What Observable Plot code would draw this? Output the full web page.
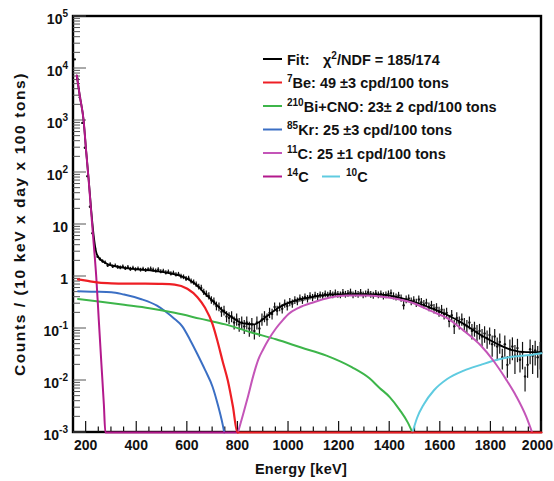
<!DOCTYPE html>
<html><head><meta charset="utf-8">
<script src="https://cdn.jsdelivr.net/npm/d3@7"></script>
<script src="https://cdn.jsdelivr.net/npm/@observablehq/plot@0.6"></script>
<style>
html,body{margin:0;padding:0;background:#fff;}
#chart svg{display:block;}
</style></head><body><div id="chart"></div>
<script>
// ---- data: spectrum, 10 keV bins starting at 155 keV ----
const binStart = 155, binWidth = 10;
const counts = [
 15000, 6500, 2800, 900, 300, 85, 22, 6.8, 3.4, 2.4,
 2.15, 1.95, 1.85, 1.62, 1.7, 1.55, 1.6, 1.5, 1.47, 1.55,
 1.42, 1.5, 1.38, 1.45, 1.35, 1.4, 1.33, 1.38, 1.31, 1.36,
 1.4, 1.33, 1.28, 1.35, 1.24, 1.27, 1.18, 1.22, 1.13, 1.16,
 1.08, 1.1, 1.0, 0.97, 0.9, 0.92, 0.81, 0.77, 0.7, 0.63,
 0.6, 0.5, 0.46, 0.42, 0.35, 0.33, 0.27, 0.26, 0.21, 0.22,
 0.17, 0.16, 0.17, 0.13, 0.15, 0.12, 0.13, 0.11, 0.13, 0.1,
 0.12, 0.09, 0.13, 0.1, 0.15, 0.17, 0.15, 0.2, 0.19, 0.26,
 0.22, 0.26, 0.24, 0.3, 0.27, 0.32, 0.3, 0.35, 0.33, 0.38,
 0.35, 0.4, 0.37, 0.42, 0.39, 0.43, 0.41, 0.44, 0.42, 0.46,
 0.43, 0.47, 0.44, 0.48, 0.45, 0.44, 0.49, 0.45, 0.47, 0.5,
 0.44, 0.47, 0.45, 0.49, 0.44, 0.46, 0.5, 0.45, 0.43, 0.47,
 0.44, 0.46, 0.42, 0.44, 0.46, 0.48, 0.42, 0.4, 0.43, 0.38,
 0.28, 0.36, 0.38, 0.33, 0.35, 0.31, 0.36, 0.32, 0.29, 0.31,
 0.26, 0.28, 0.24, 0.25, 0.21, 0.23, 0.19, 0.2, 0.14, 0.18,
 0.11, 0.16, 0.13, 0.15, 0.12, 0.11, 0.13, 0.09, 0.1, 0.085,
 0.09, 0.07, 0.08, 0.065, 0.075, 0.05, 0.07, 0.045, 0.055, 0.028,
 0.05, 0.02, 0.04, 0.045, 0.03, 0.042, 0.025, 0.035, 0.012, 0.02,
 0.04, 0.03, 0.038, 0.028, 0.035
];
const errors = [
 12, 8, 5.3, 3, 1.7, 0.9, 0.47, 0.26, 0.18, 0.15,
 0.15, 0.14, 0.14, 0.13, 0.13, 0.12, 0.13, 0.12, 0.12, 0.12,
 0.12, 0.12, 0.12, 0.12, 0.12, 0.12, 0.11, 0.12, 0.11, 0.12,
 0.12, 0.12, 0.11, 0.12, 0.11, 0.11, 0.11, 0.11, 0.11, 0.11,
 0.1, 0.1, 0.1, 0.1, 0.095, 0.096, 0.089, 0.088, 0.084, 0.079,
 0.077, 0.071, 0.067, 0.065, 0.058, 0.057, 0.052, 0.051, 0.046, 0.047,
 0.041, 0.04, 0.041, 0.036, 0.039, 0.035, 0.036, 0.033, 0.036, 0.032,
 0.035, 0.03, 0.036, 0.032, 0.039, 0.041, 0.039, 0.045, 0.044, 0.05,
 0.047, 0.051, 0.049, 0.055, 0.052, 0.057, 0.055, 0.059, 0.057, 0.062,
 0.059, 0.063, 0.061, 0.065, 0.062, 0.066, 0.063, 0.066, 0.065, 0.068,
 0.066, 0.069, 0.066, 0.069, 0.067, 0.066, 0.07, 0.067, 0.069, 0.071,
 0.066, 0.069, 0.067, 0.07, 0.066, 0.068, 0.071, 0.067, 0.066, 0.069,
 0.066, 0.068, 0.065, 0.066, 0.067, 0.069, 0.065, 0.063, 0.066, 0.062,
 0.053, 0.06, 0.062, 0.057, 0.059, 0.056, 0.06, 0.057, 0.054, 0.056,
 0.051, 0.053, 0.049, 0.05, 0.046, 0.048, 0.044, 0.045, 0.037, 0.042,
 0.033, 0.04, 0.036, 0.039, 0.035, 0.033, 0.036, 0.03, 0.032, 0.029,
 0.03, 0.026, 0.028, 0.025, 0.027, 0.022, 0.026, 0.021, 0.023, 0.012,
 0.022, 0.009, 0.02, 0.021, 0.017, 0.02, 0.011, 0.019, 0.006, 0.009,
 0.02, 0.017, 0.019, 0.017, 0.019
];

// ---- fitted curves (energy keV, counts) ----
const fitE = [163,175,190,200,210,220,230,240,250,260,270,285,310,350,400,480,550,580,610,640,670,700,740,780,810,840,865,890,920,960,1000,1040,1100,1160,1230,1300,1370,1430,1500,1560,1630,1690,1760,1820,1880,1940,2000];
const fitV = [7300,2950,1000,258,73,19,6.0,2.9,2.3,2.05,1.9,1.72,1.6,1.47,1.38,1.26,1.1,1.0,0.85,0.66,0.47,0.34,0.22,0.16,0.13,0.122,0.12,0.14,0.18,0.25,0.31,0.36,0.41,0.45,0.46,0.46,0.45,0.40,0.32,0.25,0.18,0.125,0.075,0.052,0.039,0.035,0.035];

const be7E = [168,200,250,300,400,500,550,600,640,670,700,720,740,760,780,798,2000];
const be7V = [0.88,0.83,0.76,0.74,0.73,0.72,0.70,0.58,0.40,0.25,0.12,0.055,0.023,0.01,0.0032,0.001,0.001];

const biE = [168,250,350,450,550,650,750,850,950,1050,1150,1250,1320,1360,1400,1440,1470,1490];
const biV = [0.37,0.33,0.285,0.245,0.20,0.155,0.12,0.085,0.062,0.043,0.030,0.018,0.011,0.0072,0.0048,0.0027,0.0016,0.001];

const krE = [168,220,300,350,415,480,515,545,580,612,640,670,700,720,740,746];
const krV = [0.52,0.51,0.50,0.45,0.37,0.275,0.21,0.16,0.11,0.059,0.032,0.016,0.0075,0.0035,0.0014,0.001];

const c11E = [800,820,840,860,880,900,920,950,980,1000,1040,1100,1160,1230,1300,1370,1430,1500,1560,1630,1690,1760,1810,1860,1900,1940,1963];
const c11V = [0.001,0.0022,0.005,0.012,0.025,0.04,0.06,0.10,0.15,0.19,0.25,0.32,0.39,0.43,0.43,0.41,0.37,0.30,0.22,0.155,0.093,0.047,0.024,0.0105,0.005,0.002,0.001];

const c14E = [163,175,190,200,210,220,230,240,250,260,270,276,800];
const c14V = [7300,2950,1000,257,71,17,4.2,0.98,0.145,0.022,0.0035,0.001,0.001];

const c10E = [1490,1508,1535,1575,1627,1693,1760,1825,1890,1956,2000];
const c10V = [0.001,0.0019,0.0035,0.0065,0.0107,0.0155,0.020,0.025,0.029,0.031,0.0335];

// ---- axis ticks ----
const xTickLabels = [200,400,600,800,1000,1200,1400,1600,1800,2000];
const yTickExps = [5,4,3,2,1,0,-1,-2,-3];

// ---- legend ----
const legendRows = [
  {color:"#000000", sup:"", text:"Fit:"},
  {color:"#ee1f25", sup:"7", text:"Be: 49 \u00b13 cpd/100 tons"},
  {color:"#3db54a", sup:"210", text:"Bi+CNO: 23\u00b1 2 cpd/100 tons"},
  {color:"#3b6fc4", sup:"85", text:"Kr: 25 \u00b13 cpd/100 tons"},
  {color:"#c455b8", sup:"11", text:"C: 25 \u00b11 cpd/100 tons"},
  {color:"#b3198c", sup:"14", text:"C"}
];
const colors = {fit:"#000000", be7:"#ee1f25", bi:"#3db54a", kr:"#3b6fc4", c11:"#c455b8", c14:"#b3198c", c10:"#5fcbe0"};

// ---- build tables ----
const pts = counts.map((v,i)=>({E: binStart + i*binWidth, v, lo: Math.max(v-errors[i], 1e-3), hi: v+errors[i]}));
const rows = (E,V) => E.map((e,i)=>({E:e, v:V[i]}));
const mkLine = (E,V,c,w=2) => Plot.line(rows(E,V), {x:"E", y:"v", stroke:c, strokeWidth:w, curve:"monotone-x"});

const FONT = "'Liberation Sans', Arial, Helvetica, sans-serif";
const chart = Plot.plot({
  width: 554, height: 481,
  marginLeft: 73, marginRight: 13, marginTop: 16, marginBottom: 49,
  x: {type:"linear", domain:[150,2000], axis:null},
  y: {type:"log", domain:[1e-3,1e5], axis:null},
  style: {fontFamily: FONT, background:"#fff"},
  marks: [
    Plot.ruleX(pts, {x:"E", y1:"lo", y2:"hi", stroke:"#111", strokeWidth:1.2}),
    Plot.dot(pts, {x:"E", y:"v", r:1.2, fill:"#111", stroke:"none"}),
    mkLine(fitE, fitV, colors.fit, 1.8),
    mkLine(krE, krV, colors.kr),
    mkLine(biE, biV, colors.bi),
    mkLine(c10E, c10V, colors.c10),
    mkLine(c11E, c11V, colors.c11),
    mkLine(c14E, c14V, colors.c14),
    mkLine(be7E, be7V, colors.be7, 2.2)
  ]
});
document.getElementById("chart").appendChild(chart);

// ---- ROOT-style frame, inner ticks, labels, legend ----
const svg = d3.select(chart);
const sx = chart.scale("x"), sy = chart.scale("y");
const X = v => sx.apply(v), Y = v => sy.apply(v);
const xa = X(150), xb = X(2000), ya = Y(1e5), yb = Y(1e-3);

const under = svg.insert("g", ":first-child");
under.append("rect").attr("x", xa).attr("y", ya).attr("width", xb-xa).attr("height", yb-ya)
  .attr("fill","none").attr("stroke","#000").attr("stroke-width",2.4);
for (let e = -3; e < 5; e++) {
  for (let m = 1; m < 10; m++) {
    const yy = Y(m * Math.pow(10, e));
    under.append("line").attr("x1", xa).attr("x2", xa + (m===1 ? 13 : 7))
      .attr("y1", yy).attr("y2", yy).attr("stroke","#555").attr("stroke-width",1);
  }
}
under.append("line").attr("x1", xa).attr("x2", xa+13).attr("y1", ya).attr("y2", ya).attr("stroke","#555");
for (let v = 200; v <= 2000; v += 50) {
  const xx = X(v);
  under.append("line").attr("x1", xx).attr("x2", xx).attr("y1", yb).attr("y2", yb - (v % 200 === 0 ? 11 : 5.5))
    .attr("stroke","#111").attr("stroke-width",1.2);
}

const over = svg.append("g").attr("font-family", FONT).attr("font-weight","bold")
  .attr("fill","#111").attr("text-anchor","start");
xTickLabels.forEach((v, i) => {
  const last = i === xTickLabels.length - 1;
  over.append("text").attr("x", last ? 553 : X(v)).attr("y", yb + 18)
    .attr("text-anchor", last ? "end" : "middle")
    .attr("font-size", 14).text(String(v));
});
yTickExps.forEach(e => {
  const t = over.append("text").attr("x", xa - 5).attr("y", Y(Math.pow(10, e)) + 8)
    .attr("text-anchor","end").attr("font-size", 14);
  if (e === 0) t.text("1");
  else if (e === 1) t.text("10");
  else {
    t.append("tspan").text("10");
    t.append("tspan").attr("dy", -7).attr("font-size", 10).text(String(e));
  }
});
over.append("text").attr("x", (xa+xb)/2 - 6).attr("y", 474).attr("text-anchor","middle")
  .attr("font-size", 14.5).attr("letter-spacing", 0.3).text("Energy [keV]");
over.append("text").attr("transform", `translate(25,${(ya+yb)/2}) rotate(-90)`).attr("text-anchor","middle")
  .attr("font-size", 15.5).attr("letter-spacing", 1.6).text("Counts / (10 keV x day x 100 tons)");

const lg = over.append("g").attr("text-anchor","start");
const ly0 = 59, ldy = 23.5;
legendRows.forEach((r, i) => {
  const yy = ly0 + i*ldy;
  lg.append("line").attr("x1", 263).attr("x2", 282).attr("y1", yy).attr("y2", yy)
    .attr("stroke", r.color).attr("stroke-width", 2);
  const t = lg.append("text").attr("x", 287).attr("y", yy + 5.5).attr("font-size", 14.5);
  if (r.sup) {
    t.append("tspan").attr("font-size", 10).attr("dy", -6).text(r.sup);
    t.append("tspan").attr("dy", 6).text(r.text);
  } else t.text(r.text);
});
{
  const t = lg.append("text").attr("x", 323).attr("y", ly0 + 5.5).attr("font-size", 14.5);
  t.append("tspan").text("\u03c7");
  t.append("tspan").attr("font-size", 10).attr("dy", -6).text("2");
  t.append("tspan").attr("dy", 6).text("/NDF = 185/174");
}
{
  const yy = ly0 + 5*ldy;
  lg.append("line").attr("x1", 322).attr("x2", 340).attr("y1", yy).attr("y2", yy)
    .attr("stroke", colors.c10).attr("stroke-width", 2);
  const t = lg.append("text").attr("x", 346).attr("y", yy + 5.5).attr("font-size", 14.5);
  t.append("tspan").attr("font-size", 10).attr("dy", -6).text("10");
  t.append("tspan").attr("dy", 6).text("C");
}
</script>
</body></html>
